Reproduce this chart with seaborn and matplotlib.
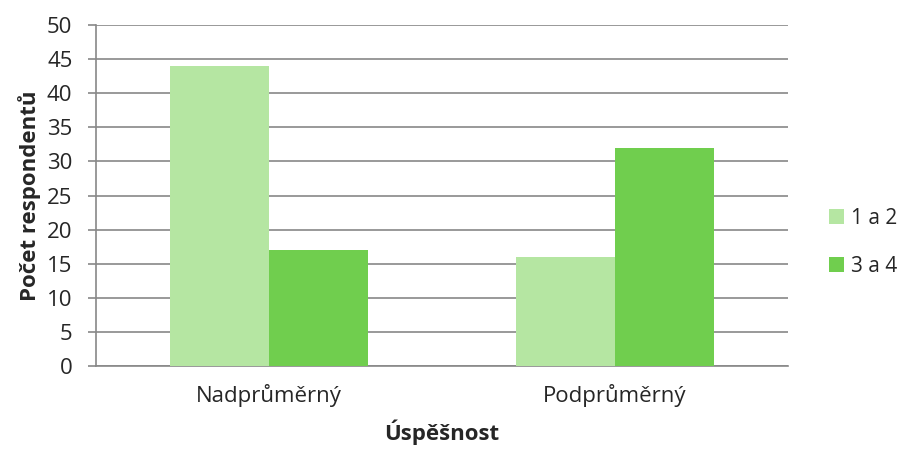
import matplotlib
matplotlib.use("Agg")
import matplotlib.pyplot as plt
import seaborn as sns
import pandas as pd
from matplotlib.patches import Patch

categories = ["Nadprůměrný", "Podprůměrný"]
series_names = ["1 a 2", "3 a 4"]
values_12 = [44, 16]
values_34 = [17, 32]
y_ticks = [0, 5, 10, 15, 20, 25, 30, 35, 40, 45, 50]

colors = ["#B5E6A2", "#70CE4E"]
grid_color = "#888888"
fs = 16

df = pd.DataFrame({
    "Úspěšnost": categories * 2,
    "skupina": [series_names[0]] * 2 + [series_names[1]] * 2,
    "počet": values_12 + values_34,
})

sns.set_style("white")
plt.rcParams["font.family"] = ["Open Sans", "DejaVu Sans"]

fig = plt.figure(figsize=(9.03, 4.53), dpi=100)
ax = fig.add_axes([0.1063, 0.192, 0.7664, 0.7528])

sns.barplot(data=df, x="Úspěšnost", y="počet", hue="skupina",
            palette=colors, width=0.572, gap=0, saturation=1,
            edgecolor="none", linewidth=0, ax=ax, legend=False, zorder=3)

ax.set_xlim(-0.5, 1.5)
ax.set_ylim(0, 50)
ax.set_yticks(y_ticks)
ax.set_yticklabels([str(t) for t in y_ticks], fontsize=fs)
ax.yaxis.grid(True, color=grid_color, linewidth=1.2, zorder=0)
ax.set_axisbelow(True)

# category labels at centres, tick marks at category boundaries
ax.set_xticks([0, 1])
ax.set_xticklabels(categories, fontsize=fs)
ax.tick_params(axis="x", which="major", length=0, pad=13)
ax.set_xticks([-0.5, 0.5, 1.5], minor=True)
ax.tick_params(axis="x", which="minor", length=6, width=1.2, color=grid_color, direction="out")
ax.tick_params(axis="y", length=6, width=1.2, color=grid_color, direction="out", pad=11, left=True)

for side in ["top", "right"]:
    ax.spines[side].set_visible(False)
for side in ["left", "bottom"]:
    ax.spines[side].set_color(grid_color)
    ax.spines[side].set_linewidth(1.2)

ax.set_xlabel("Úspěšnost", fontsize=fs, fontweight="bold", labelpad=9)
ax.set_ylabel("Počet respondentů", fontsize=fs, fontweight="bold", labelpad=4)

handles = [Patch(facecolor=c, edgecolor="none") for c in colors]
fig.legend(handles, series_names, loc="center left", bbox_to_anchor=(0.918, 0.465),
           frameon=False, fontsize=15, borderpad=0, borderaxespad=0,
           handlelength=0.72, handleheight=0.72,
           handletextpad=0.35, labelspacing=1.3)

fig.savefig("out.png", dpi=100)
